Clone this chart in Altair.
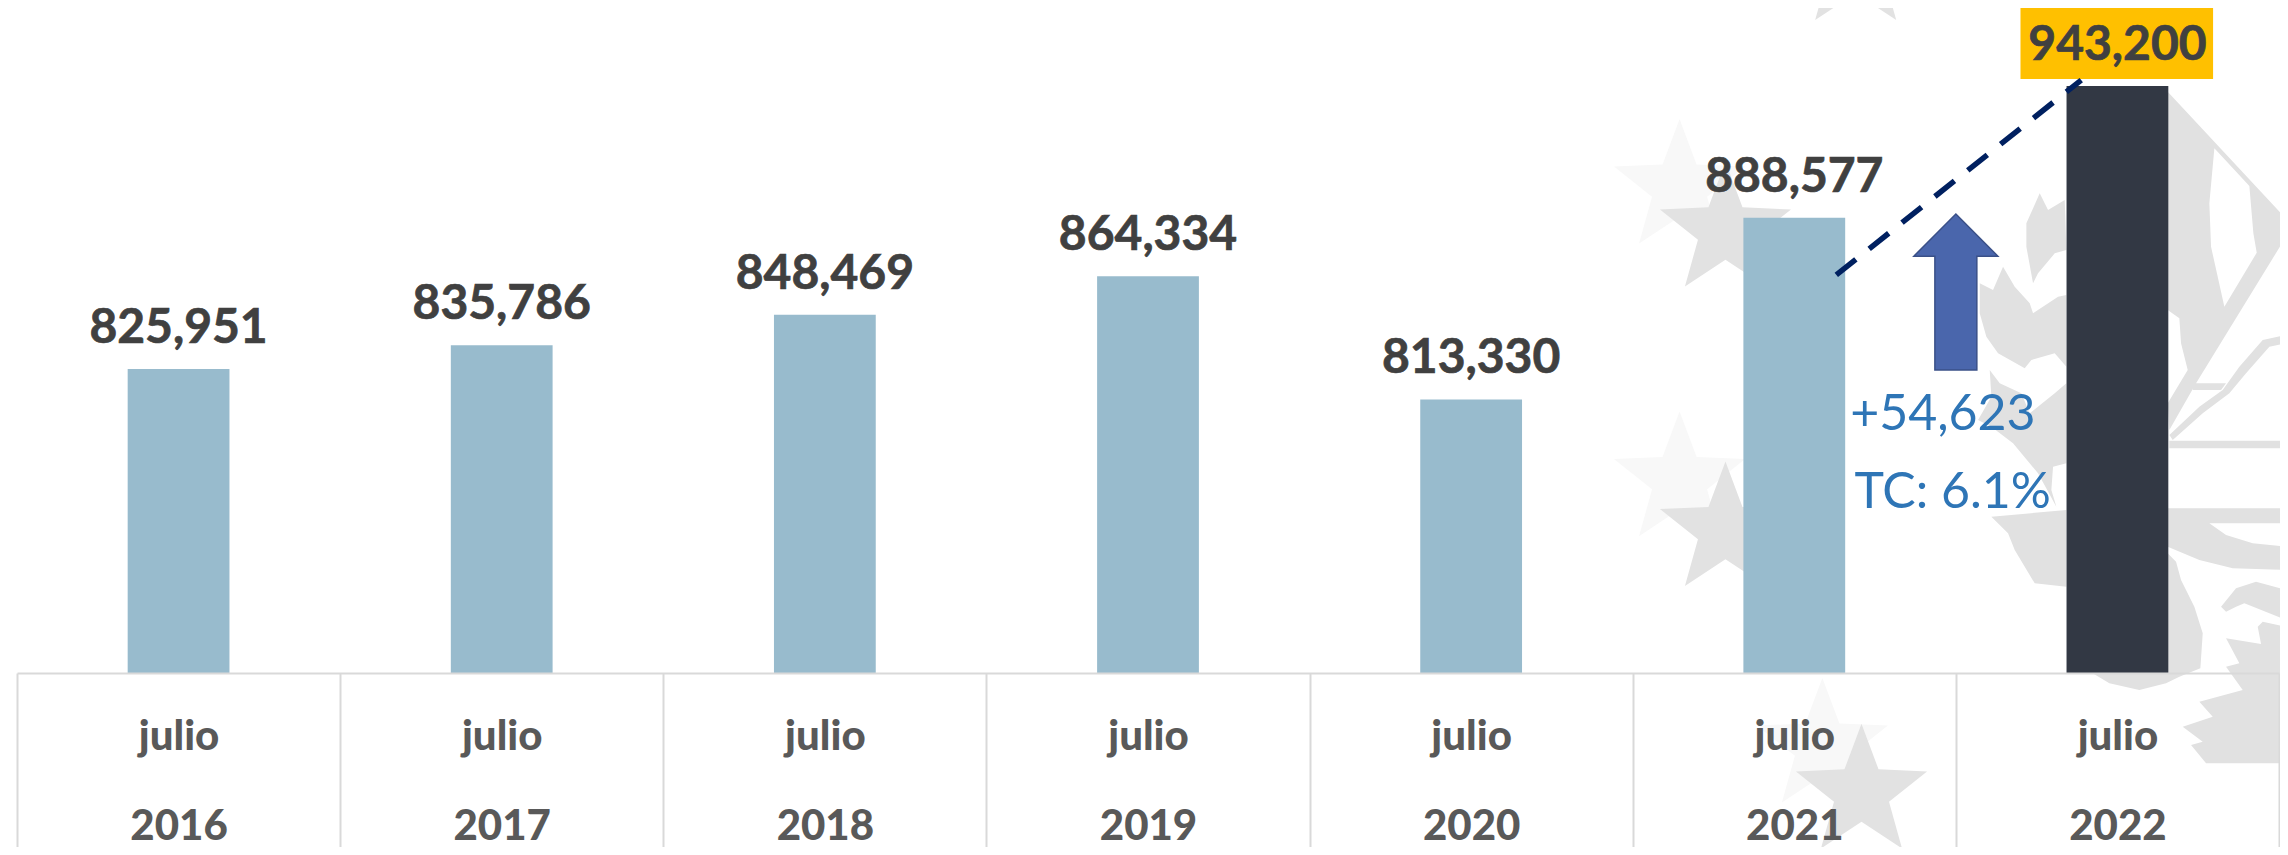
import math
import altair as alt
import pandas as pd

months = ["julio"] * 7
years = ["2016", "2017", "2018", "2019", "2020", "2021", "2022"]
values = [825951, 835786, 848469, 864334, 813330, 888577, 943200]
value_labels = ["825,951", "835,786", "848,469", "864,334", "813,330", "888,577", "943,200"]
kinds = ["past", "past", "past", "past", "past", "past", "current"]

trend_x = [5.13, 5.888]
trend_y = [864900, 945650]
arrow_x = [5.5]
arrow_y = [857830]
change_x = [5.46, 5.49]
change_y = [807000, 774500]
change_text = ["+54,623", "TC: 6.1%"]
badge_x = [5.70]
badge_x2 = [6.296]
badge_y = [946100]
badge_y2 = [975500]

pale_x = [4.645, 4.645, 5.087]
pale_y = [901000, 779800, 669400]
grey_x = [4.787, 4.787, 5.208, 5.19]
grey_y = [883200, 759100, 650400, 993600]
emblem_x = [5.94]
emblem_y = [804800]

YMIN, YMAX = 700000, 975500
df = pd.DataFrame({"year": years, "month": months, "value": values, "label": value_labels,
                   "kind": kinds, "base": [YMIN] * 7, "idx": range(7)})


def star_path():
    pts = []
    for k in range(10):
        r = 1 if k % 2 == 0 else 0.42
        a = math.radians(-90 + 36 * k)
        pts.append(f"{r * math.cos(a):.3f},{r * math.sin(a):.3f}")
    return "M" + " L".join(pts) + " Z"


STAR = star_path()
ARROW = "M0,-1 L0.538,-0.46 L0.269,-0.46 L0.269,1 L-0.269,1 L-0.269,-0.46 L-0.538,-0.46 Z"


def outline(points, ox, oy):
    """Watermark outline, traced on a crop at 3x, as one closed sub-path of the emblem symbol."""
    pts = [((ox + px / 3 - 2100) / 400, (oy + py / 3 - 420) / 400) for px, py in points]
    return "M" + " L".join(f"{a:.4f},{b:.4f}" for a, b in pts) + " Z"


EMBLEM = " ".join([
    outline([(5, 95), (345, 460), (360, 470), (360, 530), (90, 970), (10, 1110), (5, 1030), (65, 930), (45, 850), (40, 775), (5, 750)], 2168, 60),
    outline([(145, 265), (130, 430), (135, 560), (175, 740), (272, 578), (262, 520), (250, 378)], 2168, 60),
    outline([(10, 1125), (100, 1040), (170, 990), (220, 920), (290, 840), (360, 825), (360, 850), (310, 860), (240, 940), (190, 1000), (110, 1060), (20, 1140)], 2168, 60),
    outline([(85, 970), (180, 970), (165, 990), (80, 990)], 2168, 60),
    outline([(10, 1142), (360, 1142), (360, 1165), (10, 1165)], 2168, 60),
    outline([(305, 205), (660, 205), (660, 250), (430, 250), (480, 285), (560, 310), (660, 320), (660, 390), (500, 385), (400, 360), (305, 320)], 2068, 440),
    outline([(305, 340), (330, 365), (345, 420), (385, 500), (410, 580), (403, 685), (340, 710), (300, 730), (220, 750), (130, 730), (80, 700), (305, 700)], 2068, 440),
    outline([(660, 560), (590, 545), (575, 560), (585, 612), (480, 595), (520, 670), (480, 680), (530, 750), (400, 785), (440, 830), (350, 860), (410, 905), (375, 915), (420, 970), (660, 970)], 2068, 440),
    outline([(465, 500), (510, 445), (570, 425), (660, 450), (660, 540), (535, 490), (510, 500), (480, 515)], 2068, 440),
    outline([(245, 40), (270, 90), (320, 60), (325, 210), (290, 220), (240, 280), (225, 310), (205, 200), (205, 130)], 1960, 180),
    outline([(65, 310), (105, 330), (135, 260), (170, 320), (215, 370), (225, 400), (300, 350), (325, 345), (325, 560), (290, 520), (220, 540), (200, 565), (120, 520), (85, 470), (65, 400)], 1960, 180),
    outline([(95, 570), (125, 610), (190, 640), (215, 700), (290, 640), (325, 610), (325, 850), (285, 860), (280, 930), (295, 980), (240, 880), (165, 790), (100, 740), (60, 720), (100, 650)], 1960, 180),
    outline([(100, 1010), (325, 990), (325, 1220), (230, 1210), (170, 1110), (150, 1060)], 1960, 180),
])

yscale = alt.Scale(domain=[YMIN, YMAX])
qx = alt.Scale(domain=[-0.5, 6.5])
X = alt.X("px:Q", scale=qx, axis=None)
Y = alt.Y("py:Q", scale=yscale, axis=None)


def star_layer(xs, ys, color):
    d = pd.DataFrame({"px": xs, "py": ys})
    return alt.Chart(d).mark_point(shape=STAR, size=19000, filled=True, color=color, opacity=1, strokeWidth=0).encode(x=X, y=Y)


pale = star_layer(pale_x, pale_y, "#F8F8F8")
grey = star_layer(grey_x, grey_y, "#E2E2E2")
emblem = alt.Chart(pd.DataFrame({"px": emblem_x, "py": emblem_y})).mark_point(
    shape=EMBLEM, size=640000, filled=True, color="#E1E1E1", opacity=1, strokeWidth=0).encode(x=X, y=Y)

bars = alt.Chart(df).mark_bar(width=alt.RelativeBandSize(0.315)).encode(
    x=alt.X("year:N", sort=years, scale=alt.Scale(paddingInner=0, paddingOuter=0, round=False),
            axis=alt.Axis(title=None, labelAngle=0,
                          labelExpr="datum.value ? ['julio', datum.value] : ''",
                          domainColor="#D9D9D9", domainWidth=2,
                          tickColor="#D9D9D9", tickWidth=2, tickSize=182, tickBand="extent",
                          labelFont="Lato", labelFontWeight=900, labelFontSize=42,
                          labelColor="#595959", labelLineHeight=90, labelPadding=-119,
                          labelBaseline="middle", grid=False, zindex=1)),
    y=alt.Y("value:Q", scale=yscale, axis=None),
    y2="base:Q",
    color=alt.Color("kind:N", scale=alt.Scale(domain=["past", "current"], range=["#98BBCD", "#323844"]), legend=None),
)

badge = alt.Chart(pd.DataFrame({"px": badge_x, "px2": badge_x2, "py": badge_y, "py2": badge_y2})).mark_rect(color="#FFC000").encode(
    x=X, x2="px2:Q", y=Y, y2="py2:Q")

trend = alt.Chart(pd.DataFrame({"px": trend_x, "py": trend_y})).mark_line(
    color="#002060", strokeWidth=5.5, strokeDash=[25, 17]).encode(x=X, y=Y)

arrow = alt.Chart(pd.DataFrame({"px": arrow_x, "py": arrow_y})).mark_point(
    shape=ARROW, size=24336, filled=True, fill="#4A66AC", stroke="#3A5088", strokeWidth=1.5, opacity=1).encode(x=X, y=Y)

labels = alt.Chart(df).mark_text(font="Lato", fontWeight="bold", fontSize=48, color="#404040",
                                 stroke="#404040", strokeWidth=0.7,
                                 baseline="alphabetic", dy=-26).encode(
    x=alt.X("idx:Q", scale=qx, axis=None), y=alt.Y("value:Q", scale=yscale, axis=None), text="label:N")

change = alt.Chart(pd.DataFrame({"px": change_x, "py": change_y, "t": change_text})).mark_text(
    font="Lato", fontSize=50, color="#2E75B6", baseline="middle").encode(x=X, y=Y, text="t:N")

chart = alt.layer(pale, grey, emblem, bars, badge, trend, arrow, labels, change).resolve_scale(
    x="independent", y="shared", color="independent"
).properties(
    width=2262, height=665,
    autosize=alt.AutoSizeParams(type="none"),
    padding={"left": 9, "top": 0, "right": 1, "bottom": 174},
    background="white",
).configure_view(stroke=None)

chart.save("out.html", embed_options={"renderer": "svg", "actions": False})
